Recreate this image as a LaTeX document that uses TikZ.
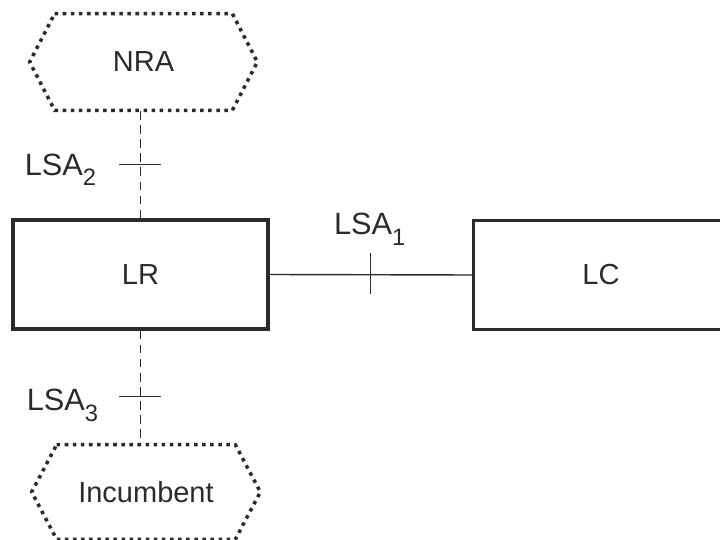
\documentclass[tikz,border=0pt]{standalone}
\usepackage{fontspec}
\setmainfont{Liberation Sans}
\usetikzlibrary{calc}
\definecolor{ink}{HTML}{2B2B2E}
\newcommand{\lsa}[1]{LSA\raisebox{-6pt}{\fontsize{13.5pt}{15pt}\selectfont #1}}
\tikzset{
	labelfont/.style={font=\fontsize{16.5pt}{20pt}\selectfont, text=ink},
	entity/.style={draw=ink, line width=1.8pt, minimum width=5.1cm, minimum height=2.18cm, inner sep=0pt, labelfont},
	party/.style={minimum width=3.54cm, minimum height=1.92cm, inner sep=0pt, labelfont},
	hexline/.style={draw=ink, line width=2pt, dash pattern=on 2pt off 2.6pt},
	ifline/.style={draw=ink, line width=0.8pt},
	optline/.style={ifline, line width=1pt, dash pattern=on 5pt off 3pt},
	lsalabel/.style={inner sep=0pt, font=\fontsize{17.5pt}{21pt}\selectfont, text=ink}
}
\begin{document}
\begin{tikzpicture}[x=0.02cm, y=-0.02cm]
		\useasboundingbox (0,0) rectangle (720,540);
		\clip (0,0) rectangle (720,540);
		% functional entities
		\node[entity] (lr) at (140.5,274.5) {LR};
		\node[entity] (lc) at (601,275) {LC};
		% outside parties
		\node[party] (nra) at (143.5,62) {NRA};
		\node[party, minimum width=3.56cm, minimum height=1.88cm] (inc) at (146,492) {Incumbent};
		\foreach \p in {nra,inc}
		{
			\draw[hexline] (\p.north west) -- (\p.north east) -- ($(\p.east)+(25,0)$) -- (\p.south east) -- (\p.south west) -- ($(\p.west)+(-25,0)$) -- cycle;
		}
		% reference points
		\draw[ifline] (lr.east) -- coordinate (t1) (lc.west);
		\draw[ifline] ($(t1)+(0,-22)$) -- ($(t1)+(0,19)$);
		\node[lsalabel, anchor=base] (l1) at ($(t1)+(-1,-40)$) {\lsa{1}};
		\draw[optline] (lr.north) -- coordinate (t2) (lr.north |- nra.south);
		\draw[ifline] ($(t2)+(-22,0)$) -- ($(t2)+(20,0)$);
		\node[lsalabel, anchor=base east] (l2) at ($(t2)+(-44,11)$) {\lsa{2}};
		\draw[optline] (lr.south) -- coordinate[pos=.58] (t3) (lr.south |- inc.north);
		\draw[ifline] ($(t3)+(-22,0)$) -- ($(t3)+(20,0)$);
		\node[lsalabel, anchor=base east] (l3) at ($(t3)+(-42,14)$) {\lsa{3}};
\end{tikzpicture}
\end{document}
